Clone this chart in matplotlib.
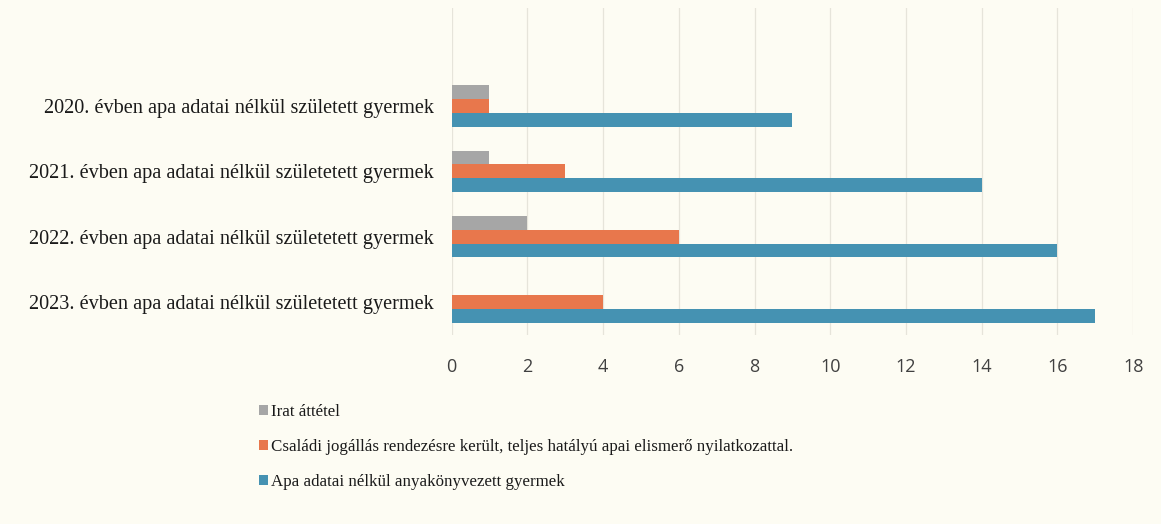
import matplotlib
matplotlib.use("Agg")
import matplotlib.pyplot as plt
from matplotlib.patches import Patch
import numpy as np

categories = ["2020. évben apa adatai nélkül született gyermek",
              "2021. évben apa adatai nélkül születetett gyermek",
              "2022. évben apa adatai nélkül születetett gyermek",
              "2023. évben apa adatai nélkül születetett gyermek"]
series_names = ["Irat áttétel",
                "Családi jogállás rendezésre került, teljes hatályú apai elismerő nyilatkozattal.",
                "Apa adatai nélkül anyakönyvezett gyermek"]
irat = [1, 1, 2, 0]
csaladi = [1, 3, 6, 4]
apa = [9, 14, 16, 17]
xticks = [0, 2, 4, 6, 8, 10, 12, 14, 16, 18]

colors = ["#a6a6a6", "#e8774c", "#4592b2"]
bg = "#fdfcf3"

fig = plt.figure(figsize=(11.61, 5.24), dpi=100, facecolor=bg)
ax = fig.add_axes([0.389, 0.361, 0.587, 0.624], facecolor=bg)

n = len(categories)
ypos = np.arange(n)[::-1].astype(float)  # 2020 at top
h = 0.21
for vals, c, off in zip([irat, csaladi, apa], colors, [h, 0, -h]):
    ax.barh(ypos + off, vals, height=h, color=c, zorder=3)

ax.set_ylim(-0.5, n + 0.5)
ax.set_xlim(0, 18)
ax.set_xticks(xticks)
ax.set_xticklabels([str(t) for t in xticks], family=["Liberation Sans Narrow", "Open Sans"],
                   fontsize=13, color="#404040")
ax.set_yticks(ypos)
ax.set_yticklabels(categories, family="Liberation Serif", fontsize=14.6, color="#1a1a1a")
ax.tick_params(axis="both", length=0)
ax.tick_params(axis="x", pad=17)
ax.tick_params(axis="y", pad=13)
ax.grid(axis="x", color="#e6e4da", linewidth=0.9, zorder=0)
for s in ax.spines.values():
    s.set_visible(False)

handles = [Patch(facecolor=c, edgecolor="none") for c in colors]
fig.legend(handles, series_names, loc="upper left", bbox_to_anchor=(0.210, 0.258),
           frameon=False, prop={"family": "Liberation Serif", "size": 12.2},
           handlelength=0.55, handleheight=0.55, handletextpad=0.15, labelspacing=1.12,
           labelcolor="#1a1a1a")

fig.savefig("out.png", dpi=100, facecolor=bg)
